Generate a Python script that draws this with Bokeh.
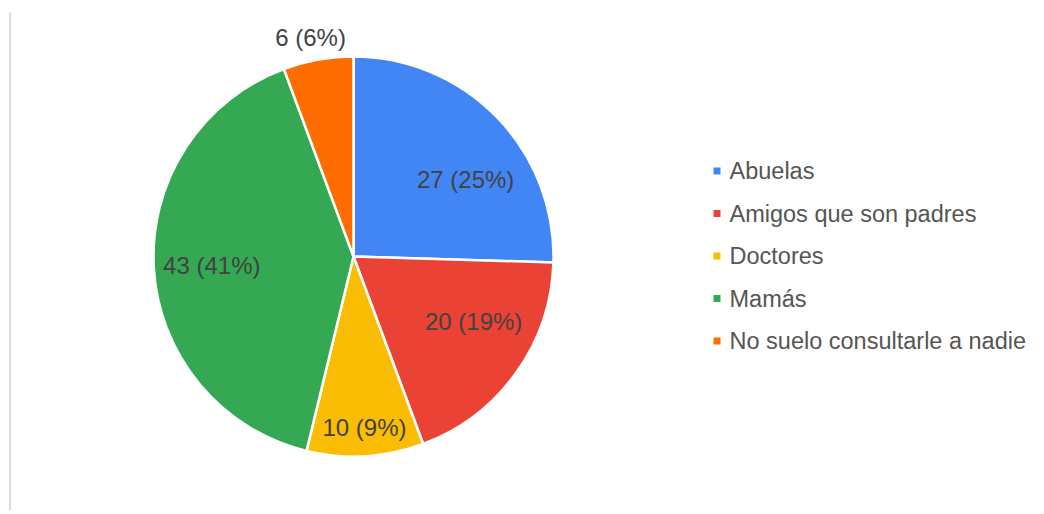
import math
from bokeh.plotting import figure
from bokeh.models import Range1d, ColumnDataSource
from bokeh.core.properties import value
from bokeh.embed import file_html
from bokeh.resources import INLINE

categories = ["Abuelas", "Amigos que son padres", "Doctores", "Mamás", "No suelo consultarle a nadie"]
counts = [27, 20, 10, 43, 6]
colors = ["#4285f4", "#ea4335", "#fbbc04", "#34a853", "#ff6d01"]

# label layout (style): radial distance and clockwise angular nudge per slice
label_radius = [136, 136.5, 171, 142, 223]
label_nudge_deg = [9.7, -7.3, -0.3, -0.2, -0.9]

W, H = 1028, 510
p = figure(width=W, height=H, output_backend="svg", toolbar_location=None,
           x_range=Range1d(0, W), y_range=Range1d(514 - H, 514),
           min_border=0, tools="")
p.axis.visible = False
p.grid.visible = False
p.outline_line_color = None
p.background_fill_color = "white"

def Y(yimg):
    return 514 - yimg

cx, cy, R = 353, Y(256), 200
total = sum(counts)

starts, ends, lx, ly, labels = [], [], [], [], []
cum = 0
for i, c in enumerate(counts):
    a0 = math.pi / 2 - 2 * math.pi * cum / total
    a1 = math.pi / 2 - 2 * math.pi * (cum + c) / total
    starts.append(a1)
    ends.append(a0)
    mid = (a0 + a1) / 2 - math.radians(label_nudge_deg[i])
    lx.append(cx + label_radius[i] * math.cos(mid))
    ly.append(cy + label_radius[i] * math.sin(mid))
    labels.append(f"{c} ({round(100 * c / total)}%)")
    cum += c

src = ColumnDataSource(dict(start=starts, end=ends, color=colors))
p.wedge(x=cx, y=cy, radius=R, start_angle="start", end_angle="end",
        fill_color="color", line_color="white", line_width=2.5, source=src)

p.text(x=lx, y=ly, text=labels, text_align="center", text_baseline="middle",
       text_font=value("Liberation Sans"), text_font_size="24px", text_color="#424242")

# legend
leg_y = [Y(170.5 + 42.5 * i) for i in range(len(categories))]
p.rect(x=[716.5] * len(categories), y=leg_y, width=7, height=7, fill_color=colors, line_color=None)
p.text(x=[729] * len(categories), y=leg_y, text=categories, text_align="left", text_baseline="middle",
       text_font=value("Liberation Sans"), text_font_size="23.5px", text_color="#555555")

# left border line
p.segment(x0=[9.5], y0=[Y(12)], x1=[9.5], y1=[Y(514)], line_color="#d9d9d9", line_width=2)

open("out.html", "w").write(file_html(p, INLINE))
